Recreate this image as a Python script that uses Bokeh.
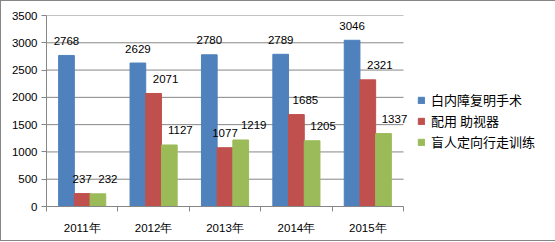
from bokeh.plotting import figure
from bokeh.models import ColumnDataSource, FixedTicker, Legend, LegendItem, LabelSet
from bokeh.core.properties import value
from bokeh.embed import file_html
from bokeh.resources import INLINE

# ---- data ----
years = ["2011年", "2012年", "2013年", "2014年", "2015年"]
cataract = [2768, 2629, 2780, 2789, 3046]
visual_aids = [237, 2071, 1077, 1685, 2321]
orientation = [232, 1127, 1219, 1205, 1337]
series_names = ["白内障复明手术", "配用 助视器", "盲人定向行走训练"]
y_ticks = [0, 500, 1000, 1500, 2000, 2500, 3000, 3500]

# ---- styles ----
colors = ["#4F81BD", "#C0504D", "#9BBB59"]
grid_col = "#868686"
num_font = "Liberation Sans"
bar_w = 0.22
offsets = [-bar_w, 0.0, bar_w]
label_dx = [[0, 0, 0, 0, 0], [0, 12, 0, 9, 12], [10, 11, 13, 11, 11]]
n = len(years)
extra = 6 / 71.4  # a little room right of the plot area for the last label

p = figure(
    x_range=(0, n + extra), y_range=(0, 3500),
    frame_width=363, frame_height=191,
    min_border_left=45, min_border_top=14, min_border_right=145, min_border_bottom=34,
    output_backend="svg", toolbar_location=None,
)
p.styles = {"border": "1px solid #868686"}
p.outline_line_color = None
p.background_fill_color = "white"
p.border_fill_color = "white"

# horizontal gridlines limited to the category area
p.ygrid.visible = False
p.xgrid.visible = False
p.segment(x0=[0] * len(y_ticks), x1=[n] * len(y_ticks), y0=y_ticks, y1=y_ticks,
          line_color=grid_col, line_width=1, level="underlay")

series = [cataract, visual_aids, orientation]
items = []
for k, vals in enumerate(series):
    xs = [i + 0.5 + offsets[k] for i in range(n)]
    src = ColumnDataSource(dict(x=xs, top=vals, lab=[str(v) for v in vals], dx=label_dx[k]))
    r = p.vbar(x="x", top="top", width=bar_w, color=colors[k], source=src)
    labels = LabelSet(x="x", y="top", text="lab", x_offset="dx", y_offset=14.5, source=src,
                      text_align="center", text_baseline="middle",
                      text_font=value(num_font), text_font_size=value("11.5px"),
                      text_color="#000000")
    p.add_layout(labels)
    items.append(LegendItem(label=series_names[k], renderers=[r]))

# y axis
p.yaxis.ticker = FixedTicker(ticks=y_ticks)
p.yaxis.axis_line_color = grid_col
p.yaxis.major_tick_line_color = grid_col
p.yaxis.major_tick_out = 5
p.yaxis.major_tick_in = 0
p.yaxis.minor_tick_line_color = None
p.yaxis.major_label_standoff = 4
p.yaxis.major_label_text_font = num_font
p.yaxis.major_label_text_font_size = "11.5px"
p.yaxis.major_label_text_color = "#000000"

# x axis
centers = [i + 0.5 for i in range(n)]
p.xaxis.bounds = (0, n)
p.xaxis.ticker = FixedTicker(ticks=centers, minor_ticks=list(range(n + 1)))
p.xaxis.major_label_overrides = {c: y for c, y in zip(centers, years)}
p.xaxis.axis_line_color = grid_col
p.xaxis.major_tick_line_color = None
p.xaxis.major_tick_out = 0
p.xaxis.major_tick_in = 0
p.xaxis.minor_tick_line_color = grid_col
p.xaxis.minor_tick_out = 5
p.xaxis.minor_tick_in = 0
p.xaxis.major_label_standoff = 10
p.xaxis.major_label_text_font = num_font
p.xaxis.major_label_text_font_size = "11.5px"
p.xaxis.major_label_text_color = "#000000"

legend = Legend(items=items, location=(8, 54), orientation="vertical",
                glyph_width=8, glyph_height=8, label_height=21, label_standoff=6,
                spacing=0, padding=5, margin=0, border_line_color=None,
                background_fill_alpha=0,
                label_text_font="Noto Sans CJK SC", label_text_font_size="13px",
                label_text_color="#000000")
p.add_layout(legend, "right")

open("out.html", "w").write(file_html(p, INLINE))
